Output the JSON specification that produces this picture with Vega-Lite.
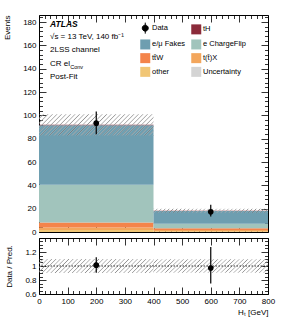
{
  "$schema": "https://vega.github.io/schema/vega-lite/v6.json",
  "padding": {"left": 3, "top": 14, "right": 16, "bottom": 2},
  "config": {
    "font": "Liberation Sans",
    "view": {"stroke": "#000", "strokeWidth": 1},
    "axis": {"domain": false, "grid": false, "labelFont": "Liberation Sans", "titleFont": "Liberation Sans", "labelFontSize": 8, "titleFontSize": 8, "titleFontWeight": "normal", "labelColor": "#000", "titleColor": "#000", "tickColor": "#000", "tickWidth": 0.8},
    "text": {"font": "Liberation Sans", "color": "#000"}
  },
  "datasets": {
    "stack": [
      {"lo": 0, "hi": 400, "c": "other", "k": 1, "v": 1.7},
      {"lo": 0, "hi": 400, "c": "t(t̄)X", "k": 2, "v": 2.2},
      {"lo": 0, "hi": 400, "c": "tt̄W", "k": 3, "v": 4.2},
      {"lo": 0, "hi": 400, "c": "e ChargeFlip", "k": 4, "v": 32.4},
      {"lo": 0, "hi": 400, "c": "e/μ Fakes", "k": 5, "v": 50.9},
      {"lo": 0, "hi": 400, "c": "tH", "k": 6, "v": 0.5},
      {"lo": 400, "hi": 800, "c": "other", "k": 1, "v": 0.6},
      {"lo": 400, "hi": 800, "c": "t(t̄)X", "k": 2, "v": 1.2},
      {"lo": 400, "hi": 800, "c": "tt̄W", "k": 3, "v": 1.5},
      {"lo": 400, "hi": 800, "c": "e ChargeFlip", "k": 4, "v": 3.7},
      {"lo": 400, "hi": 800, "c": "e/μ Fakes", "k": 5, "v": 11.0},
      {"lo": 400, "hi": 800, "c": "tH", "k": 6, "v": 0.2}
    ],
    "unc": [
      {"bin": 1, "lo": 0, "hi": 400, "a": 82.7, "b": 101.0},
      {"bin": 2, "lo": 400, "hi": 800, "a": 16.5, "b": 19.9}
    ],
    "obs": [
      {"x": 200, "y": 93.3, "a": 83.8, "b": 103.3},
      {"x": 600, "y": 17.3, "a": 13.3, "b": 23.3}
    ],
    "runc": [
      {"lo": 0, "hi": 400, "a": 0.9, "b": 1.1},
      {"lo": 400, "hi": 800, "a": 0.905, "b": 1.095}
    ],
    "robs": [
      {"x": 200, "y": 1.012, "a": 0.905, "b": 1.125},
      {"x": 600, "y": 0.97, "a": 0.75, "b": 1.27}
    ]
  },
  "spacing": 0,
  "resolve": {"legend": {"color": "independent"}, "scale": {"color": "independent"}},
  "vconcat": [
    {
      "width": 229,
      "height": 217,
      "resolve": {"axis": {"x": "independent", "y": "independent"}},
      "layer": [
        {
          "data": {"name": "stack"},
          "transform": [{"stack": "v", "groupby": ["lo"], "sort": [{"field": "k", "order": "ascending"}], "as": ["s0", "s1"]}],
          "mark": {"type": "rect"},
          "encoding": {
            "x": {"field": "lo", "type": "quantitative", "scale": {"domain": [0, 800], "nice": false},
                  "axis": {"orient": "bottom", "values": [0,20,40,60,80,100,120,140,160,180,200,220,240,260,280,300,320,340,360,380,400,420,440,460,480,500,520,540,560,580,600,620,640,660,680,700,720,740,760,780,800], "labels": false, "title": null,
                           "tickSize": {"condition": {"test": "datum.value % 100 === 0", "value": -7}, "value": -3.5}}},
            "x2": {"field": "hi"},
            "y": {"field": "s0", "type": "quantitative", "scale": {"domain": [0, 186], "nice": false},
                  "axis": {"orient": "left", "values": [0,4,8,12,16,20,24,28,32,36,40,44,48,52,56,60,64,68,72,76,80,84,88,92,96,100,104,108,112,116,120,124,128,132,136,140,144,148,152,156,160,164,168,172,176,180,184],
                           "labelExpr": "datum.value % 20 === 0 ? datum.label : ''", "labelPadding": 10, "title": "Events", "titleAnchor": "end", "titlePadding": 11,
                           "tickSize": {"condition": {"test": "datum.value % 20 === 0", "value": -7}, "value": -3.5}}},
            "y2": {"field": "s1"},
            "color": {"field": "c", "type": "nominal",
                      "scale": {"domain": ["Data", "e/μ Fakes", "tt̄W", "other", "tH", "e ChargeFlip", "t(t̄)X", "Uncertainty"],
                                "range": ["#000000", "#6e9eb0", "#f4844a", "#f1c675", "#8b2b3a", "#a1c4bc", "#f3a65c", "#d4d4d4"]},
                      "legend": {"orient": "none", "legendX": 102.5, "legendY": 9, "columns": 2, "title": null, "symbolType": "square", "symbolSize": 100,
                                 "labelFontSize": 7.5, "labelFont": "Liberation Sans", "labelColor": "#000", "labelOffset": 3, "columnPadding": 5, "rowPadding": 2.7, "padding": 0, "symbolStrokeWidth": 0,
                                 "encode": {"symbols": {"update": {
                                   "shape": {"signal": "datum.value === 'Data' ? 'M0,-1.1V1.1M-0.6,0A0.6,0.6,0,1,0,0.6,0A0.6,0.6,0,1,0,-0.6,0Z' : 'square'"},
                                   "size": {"value": 100},
                                   "stroke": {"value": "#000"},
                                   "strokeWidth": {"signal": "datum.value === 'Data' ? 1 : 0"},
                                   "fill": {"signal": "datum.value === 'Uncertainty' ? {gradient: 'linear', x1: 0, y1: 0, x2: 1, y2: 1, stops: [{offset: 0, color: '#999'}, {offset: 0.07, color: '#fff'}, {offset: 0.18, color: '#fff'}, {offset: 0.25, color: '#999'}, {offset: 0.32, color: '#fff'}, {offset: 0.43, color: '#fff'}, {offset: 0.5, color: '#999'}, {offset: 0.57, color: '#fff'}, {offset: 0.68, color: '#fff'}, {offset: 0.75, color: '#999'}, {offset: 0.82, color: '#fff'}, {offset: 0.93, color: '#fff'}, {offset: 1, color: '#999'}]} : scale('color', datum.value)"}
                                 }}}}}
          }
        },
        {
          "data": {"name": "unc"},
          "transform": [{"filter": "datum.bin === 1"}],
          "mark": {"type": "rect", "fill": {"gradient": "linear", "x1": 0, "y1": 0, "x2": 1.146, "y2": 0.213, "stops": [{"offset":0,"color":"#777c"},{"offset":0.01,"color":"#fff0"},{"offset":0.0233,"color":"#fff0"},{"offset":0.0333,"color":"#777c"},{"offset":0.0433,"color":"#fff0"},{"offset":0.0567,"color":"#fff0"},{"offset":0.0667,"color":"#777c"},{"offset":0.0767,"color":"#fff0"},{"offset":0.09,"color":"#fff0"},{"offset":0.1,"color":"#777c"},{"offset":0.11,"color":"#fff0"},{"offset":0.1233,"color":"#fff0"},{"offset":0.1333,"color":"#777c"},{"offset":0.1433,"color":"#fff0"},{"offset":0.1567,"color":"#fff0"},{"offset":0.1667,"color":"#777c"},{"offset":0.1767,"color":"#fff0"},{"offset":0.19,"color":"#fff0"},{"offset":0.2,"color":"#777c"},{"offset":0.21,"color":"#fff0"},{"offset":0.2233,"color":"#fff0"},{"offset":0.2333,"color":"#777c"},{"offset":0.2433,"color":"#fff0"},{"offset":0.2567,"color":"#fff0"},{"offset":0.2667,"color":"#777c"},{"offset":0.2767,"color":"#fff0"},{"offset":0.29,"color":"#fff0"},{"offset":0.3,"color":"#777c"},{"offset":0.31,"color":"#fff0"},{"offset":0.3233,"color":"#fff0"},{"offset":0.3333,"color":"#777c"},{"offset":0.3433,"color":"#fff0"},{"offset":0.3567,"color":"#fff0"},{"offset":0.3667,"color":"#777c"},{"offset":0.3767,"color":"#fff0"},{"offset":0.39,"color":"#fff0"},{"offset":0.4,"color":"#777c"},{"offset":0.41,"color":"#fff0"},{"offset":0.4233,"color":"#fff0"},{"offset":0.4333,"color":"#777c"},{"offset":0.4433,"color":"#fff0"},{"offset":0.4567,"color":"#fff0"},{"offset":0.4667,"color":"#777c"},{"offset":0.4767,"color":"#fff0"},{"offset":0.49,"color":"#fff0"},{"offset":0.5,"color":"#777c"},{"offset":0.51,"color":"#fff0"},{"offset":0.5233,"color":"#fff0"},{"offset":0.5333,"color":"#777c"},{"offset":0.5433,"color":"#fff0"},{"offset":0.5567,"color":"#fff0"},{"offset":0.5667,"color":"#777c"},{"offset":0.5767,"color":"#fff0"},{"offset":0.59,"color":"#fff0"},{"offset":0.6,"color":"#777c"},{"offset":0.61,"color":"#fff0"},{"offset":0.6233,"color":"#fff0"},{"offset":0.6333,"color":"#777c"},{"offset":0.6433,"color":"#fff0"},{"offset":0.6567,"color":"#fff0"},{"offset":0.6667,"color":"#777c"},{"offset":0.6767,"color":"#fff0"},{"offset":0.69,"color":"#fff0"},{"offset":0.7,"color":"#777c"},{"offset":0.71,"color":"#fff0"},{"offset":0.7233,"color":"#fff0"},{"offset":0.7333,"color":"#777c"},{"offset":0.7433,"color":"#fff0"},{"offset":0.7567,"color":"#fff0"},{"offset":0.7667,"color":"#777c"},{"offset":0.7767,"color":"#fff0"},{"offset":0.79,"color":"#fff0"},{"offset":0.8,"color":"#777c"},{"offset":0.81,"color":"#fff0"},{"offset":0.8233,"color":"#fff0"},{"offset":0.8333,"color":"#777c"},{"offset":0.8433,"color":"#fff0"},{"offset":0.8567,"color":"#fff0"},{"offset":0.8667,"color":"#777c"},{"offset":0.8767,"color":"#fff0"},{"offset":0.89,"color":"#fff0"},{"offset":0.9,"color":"#777c"},{"offset":0.91,"color":"#fff0"},{"offset":0.9233,"color":"#fff0"},{"offset":0.9333,"color":"#777c"},{"offset":0.9433,"color":"#fff0"},{"offset":0.9567,"color":"#fff0"},{"offset":0.9667,"color":"#777c"},{"offset":0.9767,"color":"#fff0"},{"offset":0.99,"color":"#fff0"},{"offset":1,"color":"#777c"}]}},
          "encoding": {
            "x": {"field": "lo", "type": "quantitative",
                  "axis": {"orient": "top", "values": [0,20,40,60,80,100,120,140,160,180,200,220,240,260,280,300,320,340,360,380,400,420,440,460,480,500,520,540,560,580,600,620,640,660,680,700,720,740,760,780,800], "labels": false, "title": null,
                           "tickSize": {"condition": {"test": "datum.value % 100 === 0", "value": -7}, "value": -3.5}}},
            "x2": {"field": "hi"},
            "y": {"field": "a", "type": "quantitative",
                  "axis": {"orient": "right", "values": [0,4,8,12,16,20,24,28,32,36,40,44,48,52,56,60,64,68,72,76,80,84,88,92,96,100,104,108,112,116,120,124,128,132,136,140,144,148,152,156,160,164,168,172,176,180,184], "labels": false, "title": null,
                           "tickSize": {"condition": {"test": "datum.value % 20 === 0", "value": -7}, "value": -3.5}}},
            "y2": {"field": "b"}
          }
        },
        {
          "data": {"name": "unc"},
          "transform": [{"filter": "datum.bin === 2"}],
          "mark": {"type": "rect", "fill": {"gradient": "linear", "x1": 0, "y1": 0, "x2": 1.034, "y2": 0.036, "stops": [{"offset":0,"color":"#777c"},{"offset":0.01,"color":"#fff0"},{"offset":0.0233,"color":"#fff0"},{"offset":0.0333,"color":"#777c"},{"offset":0.0433,"color":"#fff0"},{"offset":0.0567,"color":"#fff0"},{"offset":0.0667,"color":"#777c"},{"offset":0.0767,"color":"#fff0"},{"offset":0.09,"color":"#fff0"},{"offset":0.1,"color":"#777c"},{"offset":0.11,"color":"#fff0"},{"offset":0.1233,"color":"#fff0"},{"offset":0.1333,"color":"#777c"},{"offset":0.1433,"color":"#fff0"},{"offset":0.1567,"color":"#fff0"},{"offset":0.1667,"color":"#777c"},{"offset":0.1767,"color":"#fff0"},{"offset":0.19,"color":"#fff0"},{"offset":0.2,"color":"#777c"},{"offset":0.21,"color":"#fff0"},{"offset":0.2233,"color":"#fff0"},{"offset":0.2333,"color":"#777c"},{"offset":0.2433,"color":"#fff0"},{"offset":0.2567,"color":"#fff0"},{"offset":0.2667,"color":"#777c"},{"offset":0.2767,"color":"#fff0"},{"offset":0.29,"color":"#fff0"},{"offset":0.3,"color":"#777c"},{"offset":0.31,"color":"#fff0"},{"offset":0.3233,"color":"#fff0"},{"offset":0.3333,"color":"#777c"},{"offset":0.3433,"color":"#fff0"},{"offset":0.3567,"color":"#fff0"},{"offset":0.3667,"color":"#777c"},{"offset":0.3767,"color":"#fff0"},{"offset":0.39,"color":"#fff0"},{"offset":0.4,"color":"#777c"},{"offset":0.41,"color":"#fff0"},{"offset":0.4233,"color":"#fff0"},{"offset":0.4333,"color":"#777c"},{"offset":0.4433,"color":"#fff0"},{"offset":0.4567,"color":"#fff0"},{"offset":0.4667,"color":"#777c"},{"offset":0.4767,"color":"#fff0"},{"offset":0.49,"color":"#fff0"},{"offset":0.5,"color":"#777c"},{"offset":0.51,"color":"#fff0"},{"offset":0.5233,"color":"#fff0"},{"offset":0.5333,"color":"#777c"},{"offset":0.5433,"color":"#fff0"},{"offset":0.5567,"color":"#fff0"},{"offset":0.5667,"color":"#777c"},{"offset":0.5767,"color":"#fff0"},{"offset":0.59,"color":"#fff0"},{"offset":0.6,"color":"#777c"},{"offset":0.61,"color":"#fff0"},{"offset":0.6233,"color":"#fff0"},{"offset":0.6333,"color":"#777c"},{"offset":0.6433,"color":"#fff0"},{"offset":0.6567,"color":"#fff0"},{"offset":0.6667,"color":"#777c"},{"offset":0.6767,"color":"#fff0"},{"offset":0.69,"color":"#fff0"},{"offset":0.7,"color":"#777c"},{"offset":0.71,"color":"#fff0"},{"offset":0.7233,"color":"#fff0"},{"offset":0.7333,"color":"#777c"},{"offset":0.7433,"color":"#fff0"},{"offset":0.7567,"color":"#fff0"},{"offset":0.7667,"color":"#777c"},{"offset":0.7767,"color":"#fff0"},{"offset":0.79,"color":"#fff0"},{"offset":0.8,"color":"#777c"},{"offset":0.81,"color":"#fff0"},{"offset":0.8233,"color":"#fff0"},{"offset":0.8333,"color":"#777c"},{"offset":0.8433,"color":"#fff0"},{"offset":0.8567,"color":"#fff0"},{"offset":0.8667,"color":"#777c"},{"offset":0.8767,"color":"#fff0"},{"offset":0.89,"color":"#fff0"},{"offset":0.9,"color":"#777c"},{"offset":0.91,"color":"#fff0"},{"offset":0.9233,"color":"#fff0"},{"offset":0.9333,"color":"#777c"},{"offset":0.9433,"color":"#fff0"},{"offset":0.9567,"color":"#fff0"},{"offset":0.9667,"color":"#777c"},{"offset":0.9767,"color":"#fff0"},{"offset":0.99,"color":"#fff0"},{"offset":1,"color":"#777c"}]}},
          "encoding": {
            "x": {"field": "lo", "type": "quantitative", "axis": null},
            "x2": {"field": "hi"},
            "y": {"field": "a", "type": "quantitative", "axis": null},
            "y2": {"field": "b"}
          }
        },
        {
          "data": {"name": "obs"},
          "mark": {"type": "rule", "color": "#000", "strokeWidth": 1.2},
          "encoding": {
            "x": {"field": "x", "type": "quantitative", "axis": null},
            "y": {"field": "a", "type": "quantitative", "axis": null},
            "y2": {"field": "b"}
          }
        },
        {
          "data": {"name": "obs"},
          "mark": {"type": "point", "filled": true, "color": "#000", "size": 32, "opacity": 1},
          "encoding": {
            "x": {"field": "x", "type": "quantitative", "axis": null},
            "y": {"field": "y", "type": "quantitative", "axis": null}
          }
        },
        {
          "data": {"values": [{"t": "ATLAS"}]},
          "mark": {"type": "text", "align": "left", "baseline": "middle", "fontSize": 8.5, "fontStyle": "italic", "fontWeight": "bold"},
          "encoding": {"text": {"field": "t"}, "x": {"datum": 38.4, "axis": null}, "y": {"datum": 178.3, "axis": null}}
        },
        {
          "data": {"values": [{"t": "√s = 13 TeV, 140 fb⁻¹"}]},
          "mark": {"type": "text", "align": "left", "baseline": "middle", "fontSize": 8},
          "encoding": {"text": {"field": "t"}, "x": {"datum": 38.4, "axis": null}, "y": {"datum": 166.8, "axis": null}}
        },
        {
          "data": {"values": [{"t": "2LSS channel"}]},
          "mark": {"type": "text", "align": "left", "baseline": "middle", "fontSize": 8},
          "encoding": {"text": {"field": "t"}, "x": {"datum": 38.4, "axis": null}, "y": {"datum": 155.7, "axis": null}}
        },
        {
          "data": {"values": [{"t": "CR el"}]},
          "mark": {"type": "text", "align": "left", "baseline": "middle", "fontSize": 8},
          "encoding": {"text": {"field": "t"}, "x": {"datum": 38.4, "axis": null}, "y": {"datum": 144.3, "axis": null}}
        },
        {
          "data": {"values": [{"t": "Conv"}]},
          "mark": {"type": "text", "align": "left", "baseline": "middle", "fontSize": 5.5},
          "encoding": {"text": {"field": "t"}, "x": {"datum": 109, "axis": null}, "y": {"datum": 141.8, "axis": null}}
        },
        {
          "data": {"values": [{"t": "Post-Fit"}]},
          "mark": {"type": "text", "align": "left", "baseline": "middle", "fontSize": 8},
          "encoding": {"text": {"field": "t"}, "x": {"datum": 38.4, "axis": null}, "y": {"datum": 133.2, "axis": null}}
        }
      ]
    },
    {
      "width": 229,
      "height": 56,
      "resolve": {"axis": {"x": "independent", "y": "independent"}},
      "layer": [
        {
          "data": {"name": "runc"},
          "mark": {"type": "rect", "fill": {"gradient": "linear", "x1": 0, "y1": 0, "x2": 1.106, "y2": 0.135, "stops": [{"offset":0,"color":"#777c"},{"offset":0.01,"color":"#fff0"},{"offset":0.0233,"color":"#fff0"},{"offset":0.0333,"color":"#777c"},{"offset":0.0433,"color":"#fff0"},{"offset":0.0567,"color":"#fff0"},{"offset":0.0667,"color":"#777c"},{"offset":0.0767,"color":"#fff0"},{"offset":0.09,"color":"#fff0"},{"offset":0.1,"color":"#777c"},{"offset":0.11,"color":"#fff0"},{"offset":0.1233,"color":"#fff0"},{"offset":0.1333,"color":"#777c"},{"offset":0.1433,"color":"#fff0"},{"offset":0.1567,"color":"#fff0"},{"offset":0.1667,"color":"#777c"},{"offset":0.1767,"color":"#fff0"},{"offset":0.19,"color":"#fff0"},{"offset":0.2,"color":"#777c"},{"offset":0.21,"color":"#fff0"},{"offset":0.2233,"color":"#fff0"},{"offset":0.2333,"color":"#777c"},{"offset":0.2433,"color":"#fff0"},{"offset":0.2567,"color":"#fff0"},{"offset":0.2667,"color":"#777c"},{"offset":0.2767,"color":"#fff0"},{"offset":0.29,"color":"#fff0"},{"offset":0.3,"color":"#777c"},{"offset":0.31,"color":"#fff0"},{"offset":0.3233,"color":"#fff0"},{"offset":0.3333,"color":"#777c"},{"offset":0.3433,"color":"#fff0"},{"offset":0.3567,"color":"#fff0"},{"offset":0.3667,"color":"#777c"},{"offset":0.3767,"color":"#fff0"},{"offset":0.39,"color":"#fff0"},{"offset":0.4,"color":"#777c"},{"offset":0.41,"color":"#fff0"},{"offset":0.4233,"color":"#fff0"},{"offset":0.4333,"color":"#777c"},{"offset":0.4433,"color":"#fff0"},{"offset":0.4567,"color":"#fff0"},{"offset":0.4667,"color":"#777c"},{"offset":0.4767,"color":"#fff0"},{"offset":0.49,"color":"#fff0"},{"offset":0.5,"color":"#777c"},{"offset":0.51,"color":"#fff0"},{"offset":0.5233,"color":"#fff0"},{"offset":0.5333,"color":"#777c"},{"offset":0.5433,"color":"#fff0"},{"offset":0.5567,"color":"#fff0"},{"offset":0.5667,"color":"#777c"},{"offset":0.5767,"color":"#fff0"},{"offset":0.59,"color":"#fff0"},{"offset":0.6,"color":"#777c"},{"offset":0.61,"color":"#fff0"},{"offset":0.6233,"color":"#fff0"},{"offset":0.6333,"color":"#777c"},{"offset":0.6433,"color":"#fff0"},{"offset":0.6567,"color":"#fff0"},{"offset":0.6667,"color":"#777c"},{"offset":0.6767,"color":"#fff0"},{"offset":0.69,"color":"#fff0"},{"offset":0.7,"color":"#777c"},{"offset":0.71,"color":"#fff0"},{"offset":0.7233,"color":"#fff0"},{"offset":0.7333,"color":"#777c"},{"offset":0.7433,"color":"#fff0"},{"offset":0.7567,"color":"#fff0"},{"offset":0.7667,"color":"#777c"},{"offset":0.7767,"color":"#fff0"},{"offset":0.79,"color":"#fff0"},{"offset":0.8,"color":"#777c"},{"offset":0.81,"color":"#fff0"},{"offset":0.8233,"color":"#fff0"},{"offset":0.8333,"color":"#777c"},{"offset":0.8433,"color":"#fff0"},{"offset":0.8567,"color":"#fff0"},{"offset":0.8667,"color":"#777c"},{"offset":0.8767,"color":"#fff0"},{"offset":0.89,"color":"#fff0"},{"offset":0.9,"color":"#777c"},{"offset":0.91,"color":"#fff0"},{"offset":0.9233,"color":"#fff0"},{"offset":0.9333,"color":"#777c"},{"offset":0.9433,"color":"#fff0"},{"offset":0.9567,"color":"#fff0"},{"offset":0.9667,"color":"#777c"},{"offset":0.9767,"color":"#fff0"},{"offset":0.99,"color":"#fff0"},{"offset":1,"color":"#777c"}]}},
          "encoding": {
            "x": {"field": "lo", "type": "quantitative", "scale": {"domain": [0, 800], "nice": false},
                  "axis": {"orient": "bottom", "values": [0,20,40,60,80,100,120,140,160,180,200,220,240,260,280,300,320,340,360,380,400,420,440,460,480,500,520,540,560,580,600,620,640,660,680,700,720,740,760,780,800],
                           "labelExpr": "datum.value % 100 === 0 ? datum.label : ''", "labelPadding": 10, "labelFlush": false, "title": "Hₜ [GeV]", "titleAnchor": "end", "titlePadding": 3,
                           "tickSize": {"condition": {"test": "datum.value % 100 === 0", "value": -7}, "value": -3.5}}},
            "x2": {"field": "hi"},
            "y": {"field": "a", "type": "quantitative", "scale": {"domain": [0.6, 1.4], "nice": false, "zero": false},
                  "axis": {"orient": "left", "values": [0.6,0.65,0.7,0.75,0.8,0.85,0.9,0.95,1,1.05,1.1,1.15,1.2,1.25,1.3,1.35,1.4], "format": "~g",
                           "labelExpr": "(round(datum.value*100) % 20 === 0 && datum.value < 1.3) ? datum.label : ''", "labelPadding": 10, "labelFlush": false, "title": "Data / Pred.", "titlePadding": 11,
                           "tickSize": {"condition": {"test": "round(datum.value*100) % 20 === 0", "value": -7}, "value": -3.5}}},
            "y2": {"field": "b"}
          }
        },
        {
          "data": {"values": [{}]},
          "mark": {"type": "rule", "color": "#000", "strokeWidth": 0.8, "strokeDash": [1.5, 1.5]},
          "encoding": {"y": {"datum": 1, "axis": null}}
        },
        {
          "data": {"name": "robs"},
          "mark": {"type": "rule", "color": "#000", "strokeWidth": 1.2},
          "encoding": {
            "x": {"field": "x", "type": "quantitative",
                  "axis": {"orient": "top", "values": [0,20,40,60,80,100,120,140,160,180,200,220,240,260,280,300,320,340,360,380,400,420,440,460,480,500,520,540,560,580,600,620,640,660,680,700,720,740,760,780,800], "labels": false, "title": null,
                           "tickSize": {"condition": {"test": "datum.value % 100 === 0", "value": -7}, "value": -3.5}}},
            "y": {"field": "a", "type": "quantitative",
                  "axis": {"orient": "right", "values": [0.6,0.65,0.7,0.75,0.8,0.85,0.9,0.95,1,1.05,1.1,1.15,1.2,1.25,1.3,1.35,1.4], "labels": false, "title": null,
                           "tickSize": {"condition": {"test": "round(datum.value*100) % 20 === 0", "value": -7}, "value": -3.5}}},
            "y2": {"field": "b"}
          }
        },
        {
          "data": {"name": "robs"},
          "mark": {"type": "point", "filled": true, "color": "#000", "size": 32, "opacity": 1},
          "encoding": {
            "x": {"field": "x", "type": "quantitative", "axis": null},
            "y": {"field": "y", "type": "quantitative", "axis": null}
          }
        }
      ]
    }
  ]
}
